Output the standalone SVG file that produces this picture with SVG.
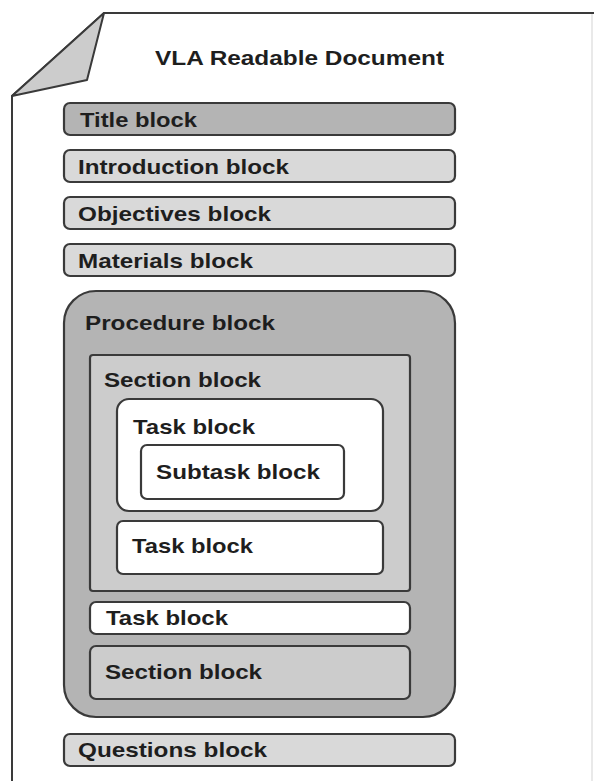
<svg xmlns="http://www.w3.org/2000/svg" width="594" height="781" viewBox="0 0 594 781">
<style>
.box{stroke:#3a3a3a;stroke-width:2.2}
.lbl{font-family:"Liberation Sans",Arial,sans-serif;font-weight:bold;font-size:21px;fill:#1e1e1e}
.dark{fill:#b4b4b4}
.light{fill:#d9d9d9}
.mid{fill:#cccccc}
.white{fill:#ffffff}
</style>
<rect x="0" y="0" width="594" height="781" fill="#ffffff"/>
<g id="page">
<line x1="592" y1="14" x2="592" y2="781" stroke="#e2e2e2" stroke-width="1.5"/>
<polyline points="12,781 12,96 104,13 594,13" fill="none" stroke="#3a3a3a" stroke-width="2"/>
<polygon points="104,13 12,96 87,80" fill="#cccccc" stroke="#3a3a3a" stroke-width="2" stroke-linejoin="round"/>
<text class="lbl" x="155" y="65" textLength="289" lengthAdjust="spacingAndGlyphs">VLA Readable Document</text>
</g>
<g id="title-block">
<rect class="box dark" x="64" y="103" width="391" height="32" rx="6"/>
<text class="lbl" x="80" y="127" textLength="117" lengthAdjust="spacingAndGlyphs">Title block</text>
</g>
<g id="introduction-block">
<rect class="box light" x="64" y="150" width="391" height="32" rx="6"/>
<text class="lbl" x="78" y="174" textLength="211" lengthAdjust="spacingAndGlyphs">Introduction block</text>
</g>
<g id="objectives-block">
<rect class="box light" x="64" y="197" width="391" height="32" rx="6"/>
<text class="lbl" x="78" y="221" textLength="193" lengthAdjust="spacingAndGlyphs">Objectives block</text>
</g>
<g id="materials-block">
<rect class="box light" x="64" y="244" width="391" height="32" rx="6"/>
<text class="lbl" x="78" y="268" textLength="175" lengthAdjust="spacingAndGlyphs">Materials block</text>
</g>
<g id="procedure-block">
<rect class="box dark" x="64" y="291" width="391" height="426" rx="32"/>
<text class="lbl" x="85" y="330" textLength="190" lengthAdjust="spacingAndGlyphs">Procedure block</text>
</g>
<g id="section-block-1">
<rect class="box mid" x="90" y="355" width="320" height="236" rx="3"/>
<text class="lbl" x="104" y="387" textLength="157" lengthAdjust="spacingAndGlyphs">Section block</text>
</g>
<g id="task-block-1">
<rect class="box white" x="117" y="399" width="266" height="112" rx="12"/>
<text class="lbl" x="133" y="434" textLength="122" lengthAdjust="spacingAndGlyphs">Task block</text>
</g>
<g id="subtask-block">
<rect class="box white" x="141" y="445" width="203" height="54" rx="6"/>
<text class="lbl" x="156" y="479" textLength="164" lengthAdjust="spacingAndGlyphs">Subtask block</text>
</g>
<g id="task-block-2">
<rect class="box white" x="117" y="521" width="266" height="53" rx="6"/>
<text class="lbl" x="132" y="553" textLength="121" lengthAdjust="spacingAndGlyphs">Task block</text>
</g>
<g id="task-block-3">
<rect class="box white" x="90" y="602" width="320" height="32" rx="6"/>
<text class="lbl" x="106" y="625" textLength="122" lengthAdjust="spacingAndGlyphs">Task block</text>
</g>
<g id="section-block-2">
<rect class="box mid" x="90" y="646" width="320" height="53" rx="6"/>
<text class="lbl" x="105" y="679" textLength="157" lengthAdjust="spacingAndGlyphs">Section block</text>
</g>
<g id="questions-block">
<rect class="box light" x="64" y="734" width="391" height="32" rx="6"/>
<text class="lbl" x="78" y="757" textLength="189" lengthAdjust="spacingAndGlyphs">Questions block</text>
</g>
<g id="connectors"></g>
</svg>
